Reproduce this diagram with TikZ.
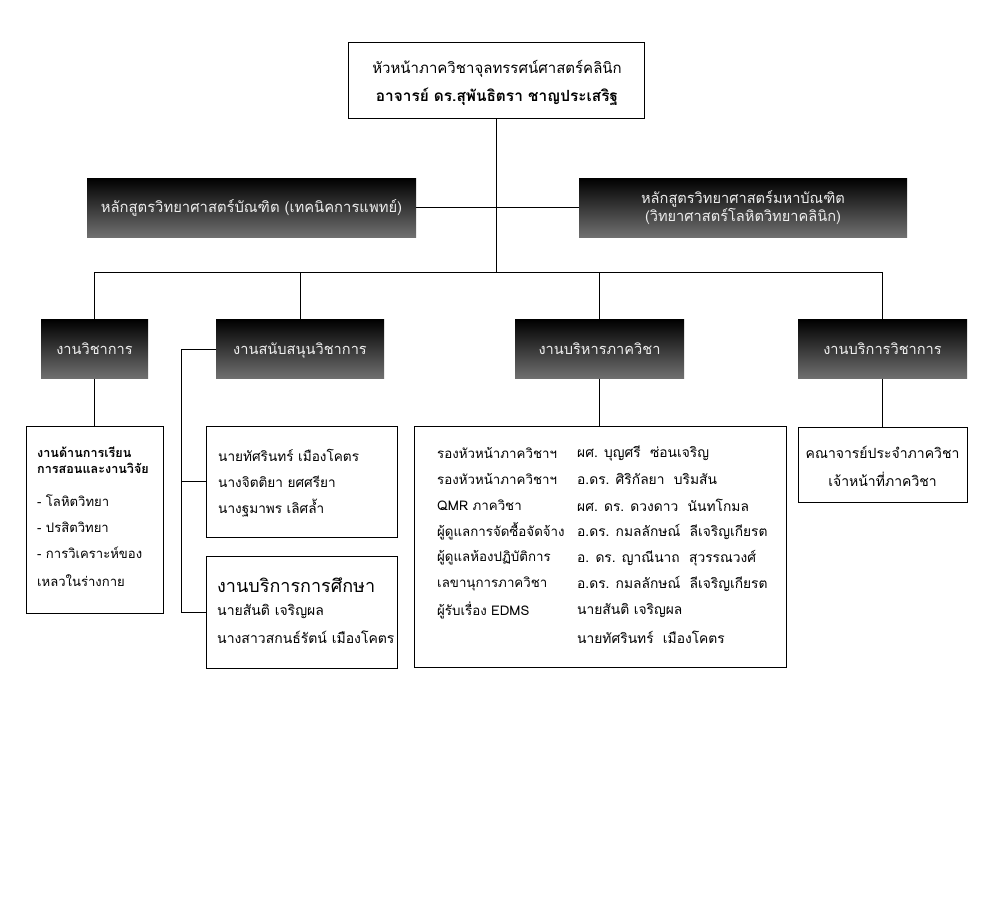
\documentclass[tikz,border=0pt]{standalone}
\usepackage{fontspec}
\setmainfont[Script=Thai]{Loma}
\definecolor{shadeend}{RGB}{112,112,112}
\definecolor{txtlight}{RGB}{238,238,238}
\begin{document}
\begin{tikzpicture}[x=1pt,y=-1pt,
  wbox/.style={draw=black, line width=1pt, fill=white, inner sep=0pt},
  dbox/.style={top color=black, bottom color=shadeend, inner sep=0pt, text=txtlight, font=\fontsize{14.6}{18}\selectfont},
  dept/.style={dbox, minimum height=59pt, text height=14pt, text depth=3pt},
  conn/.style={draw=black, line width=1pt},
  tx/.style={inner sep=0pt, anchor=west, font=\fontsize{13.6}{17}\selectfont},
  txc/.style={inner sep=0pt, font=\fontsize{14}{17}\selectfont}]
\useasboundingbox[fill=white] (0,0) rectangle (994,922);
% top
\node[wbox, minimum width=296pt, minimum height=76pt] (top) at (496,80) {};
\node[inner sep=0pt, font=\fontsize{15}{18}\selectfont] (t1) at (497,69) {หัวหน้าภาควิชาจุลทรรศน์ศาสตร์คลินิก};
\node[inner sep=0pt, font=\fontsize{15.4}{18}\selectfont\bfseries] (t2) at (497,97) {อาจารย์ ดร.สุพันธิตรา ชาญประเสริฐ};
% programmes
\node[dbox, font=\fontsize{14.8}{18}\selectfont, minimum width=329pt, minimum height=59pt] (p1) at (251.5,207.5) {หลักสูตรวิทยาศาสตร์บัณฑิต (เทคนิคการแพทย์)};
\node[dbox, minimum width=328pt, minimum height=59pt, align=center] (p2) at (743,207.5) {หลักสูตรวิทยาศาสตร์มหาบัณฑิต\\(วิทยาศาสตร์โลหิตวิทยาคลินิก)};
% departments
\node[dept, minimum width=107pt] (d1) at (94.5,349) {งานวิชาการ};
\node[dept, minimum width=168pt] (d2) at (300,349) {งานสนับสนุนวิชาการ};
\node[dept, minimum width=169pt] (d3) at (599.5,349) {งานบริหารภาควิชา};
\node[dept, minimum width=169pt] (d4) at (882.5,349) {งานบริการวิชาการ};
% lower boxes
\node[wbox, minimum width=137pt, minimum height=187pt] (ba) at (94.5,519.5) {};
\node[wbox, minimum width=191pt, minimum height=111pt] (bb) at (301.5,481.5) {};
\node[wbox, minimum width=191pt, minimum height=112pt] (bc) at (301.5,612) {};
\node[wbox, minimum width=372pt, minimum height=241pt] (bd) at (600,546.5) {};
\node[wbox, minimum width=169pt, minimum height=75pt] (be) at (882.5,464.5) {};
% connectors
\coordinate (bus) at (496,272);
\coordinate (sp) at (181,349);
\draw[conn] (top.south) -- (bus);
\draw[conn] (p1.east) -- (p2.west);
\draw[conn] (d1.north) -- (d1.north |- bus) -- (d4.north |- bus) -- (d4.north);
\draw[conn] (d2.north) -- (d2.north |- bus);
\draw[conn] (d3.north) -- (d3.north |- bus);
\draw[conn] (d1.south) -- (ba.north);
\draw[conn] (d3.south) -- (d3.south |- bd.north);
\draw[conn] (d4.south) -- (d4.south |- be.north);
\draw[conn] (d2.west) -- (sp) -- (sp |- bc.west) -- (bc.west);
\draw[conn] (sp |- bb.west) -- (bb.west);
% box A
\node[tx, font=\fontsize{12.6}{16}\selectfont\bfseries] (a1) at (37,452) {งานด้านการเรียน};
\node[tx, font=\fontsize{12.6}{16}\selectfont\bfseries] (a2) at (37,468) {การสอนและงานวิจัย};
\node[tx, font=\fontsize{13.1}{16}\selectfont] (a3) at (37,501) {- โลหิตวิทยา};
\node[tx, font=\fontsize{13.1}{16}\selectfont] (a4) at (37,527) {- ปรสิตวิทยา};
\node[tx, font=\fontsize{13.1}{16}\selectfont] (a5) at (37,553) {- การวิเคราะห์ของ};
\node[tx, font=\fontsize{13.1}{16}\selectfont] (a6) at (37,581) {เหลวในร่างกาย};
% box B
\node[tx] (b1) at (218,455) {นายทัศรินทร์ เมืองโคตร};
\node[tx] (b2) at (218,482) {นางจิตติยา ยศศรียา};
\node[tx] (b3) at (218,508) {นางฐมาพร เลิศล้ำ};
% box C
\node[tx, font=\fontsize{18}{21}\selectfont] (c1) at (217,585) {งานบริการการศึกษา};
\node[tx, font=\fontsize{14}{17}\selectfont] (c2) at (217,611) {นายสันติ เจริญผล};
\node[tx, font=\fontsize{14}{17}\selectfont] (c3) at (217,637) {นางสาวสกนธ์รัตน์ เมืองโคตร};
% box D
\foreach \i/\l/\r in {0/รองหัวหน้าภาควิชาฯ/ผศ. บุญศรี~~ซ่อนเจริญ,
  1/รองหัวหน้าภาควิชาฯ/อ.ดร. ศิริกัลยา~~บริมสัน,
  2/QMR ภาควิชา/ผศ. ดร. ดวงดาว~~นันทโกมล,
  3/ผู้ดูแลการจัดซื้อจัดจ้าง/อ.ดร. กมลลักษณ์~~ลีเจริญเกียรต,
  4/ผู้ดูแลห้องปฏิบัติการ/อ. ดร. ญาณีนาถ~~สุวรรณวงศ์,
  5/เลขานุการภาควิชา/อ.ดร. กมลลักษณ์~~ลีเจริญเกียรต,
  6/ผู้รับเรื่อง EDMS/นายสันติ เจริญผล}{
  \node[tx, font=\fontsize{13.3}{16}\selectfont] (dl\i) at (437,453+26.2*\i) {\l};
  \node[tx, font=\fontsize{13.8}{16}\selectfont] (dr\i) at (577,453+26.2*\i) {\r};
}
\node[tx, font=\fontsize{13.8}{16}\selectfont] (dr7) at (577,637) {นายทัศรินทร์~~เมืองโคตร};
% box E
\node[txc] (e1) at (882.5,452) {คณาจารย์ประจำภาควิชา};
\node[txc] (e2) at (882.5,479) {เจ้าหน้าที่ภาควิชา};
\end{tikzpicture}
\end{document}
